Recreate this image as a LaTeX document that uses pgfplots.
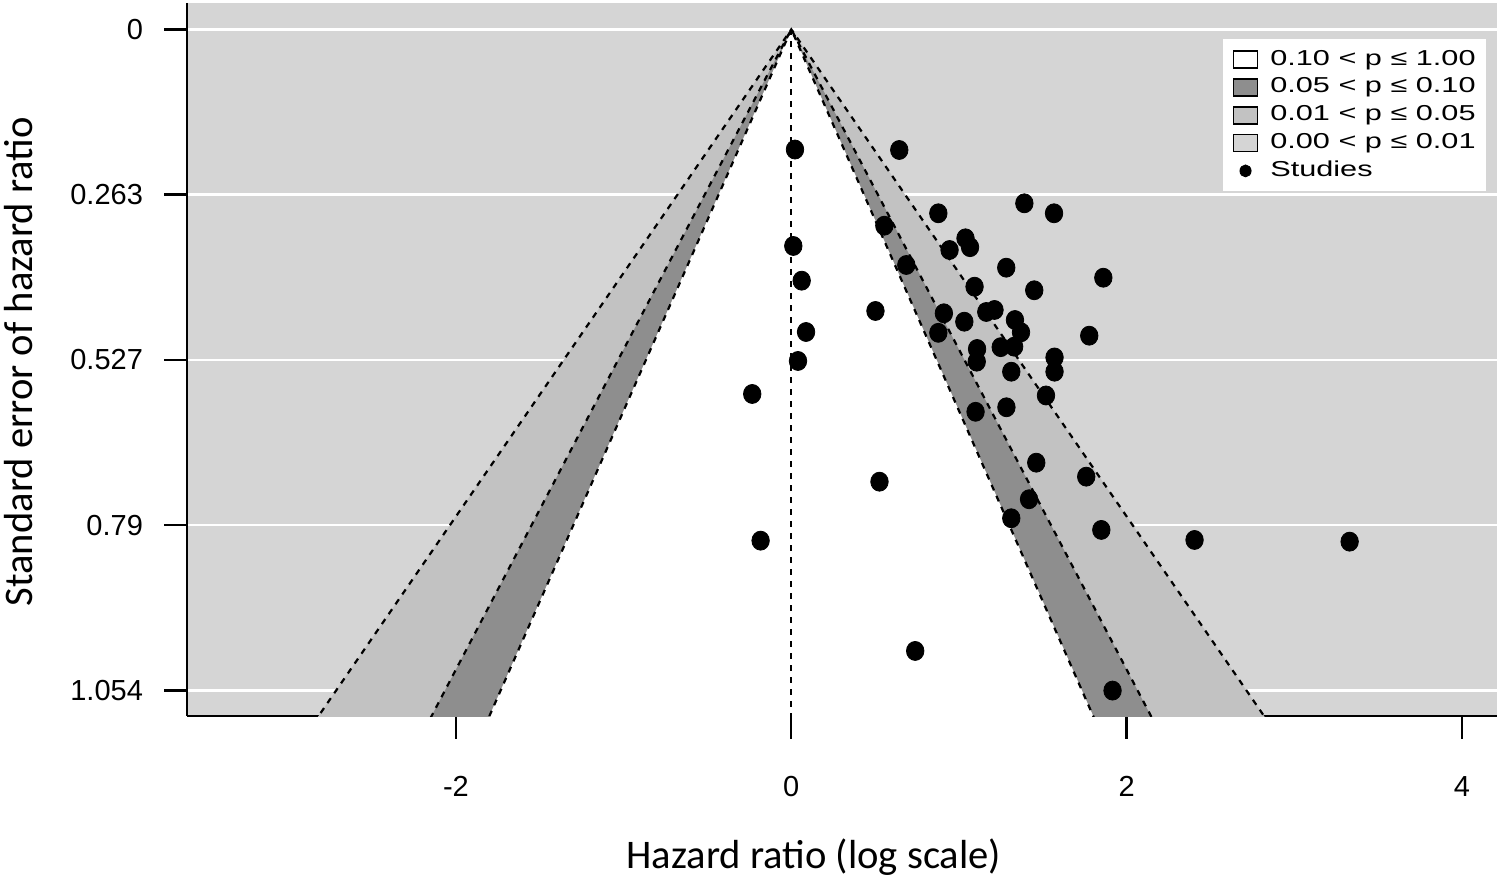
\documentclass[border=0pt]{standalone}
\usepackage{fontspec}
\setmainfont{Liberation Sans}
\newfontfamily\calibri{Carlito}
\usepackage{graphicx}
\usepackage{pgfplots}
\usepackage{pgfplotstable}
\pgfplotsset{compat=1.18}
\definecolor{bgray}{HTML}{D5D5D5}
\definecolor{mgray}{HTML}{C2C2C2}
\definecolor{dgray}{HTML}{8E8E8E}
\pgfplotsset{
  layers/mylayers/.define layer set={axis background,axis grid,main,axis ticks,axis lines,axis tick labels,axis descriptions,axis foreground}{},
}
\pgfplotstableread{
x y
0.022 0.1916
0.644 0.1923
1.390 0.2773
1.567 0.2932
0.877 0.2932
0.555 0.3130
1.039 0.3331
1.066 0.3472
0.944 0.3517
0.012 0.3453
0.686 0.3756
1.282 0.3799
1.861 0.3959
0.062 0.4006
1.093 0.4102
1.449 0.4159
0.502 0.4489
0.910 0.4526
1.163 0.4505
1.212 0.4473
1.032 0.4660
1.334 0.4633
1.370 0.4829
0.877 0.4837
0.088 0.4824
1.777 0.4883
1.108 0.5095
1.249 0.5066
1.329 0.5058
1.106 0.5297
0.040 0.5286
1.570 0.5230
1.570 0.5457
1.312 0.5457
-0.233 0.5812
1.519 0.5836
1.283 0.6024
1.099 0.6096
1.461 0.6907
0.526 0.7210
1.759 0.7130
1.418 0.7490
1.312 0.7793
1.849 0.7979
-0.183 0.8150
2.405 0.8139
3.330 0.8166
0.739 0.9908
1.916 1.0540
}\studies

\begin{document}
\begin{tikzpicture}
\begin{axis}[
  set layers=mylayers,
  at={(0pt,0pt)}, anchor=south west,
  scale only axis, width=655pt, height=356.5pt,
  xmin=-3.604, xmax=4.209, ymin=-0.042, ymax=1.0945,
  y dir=reverse,
  axis x line*=bottom, axis y line*=left,
  axis line style={line width=1.2pt, -},
  axis background/.style={fill=bgray},
  xtick={-2,0,2,4}, xticklabels={-2,0,2,4},
  ytick={0,0.2635,0.527,0.7905,1.054}, yticklabels={0,0.263,0.527,0.79,1.054},
  tick align=outside, major tick length=11.5pt,
  tick style={line width=1.2pt, black},
  ymajorgrids, grid style={white, line width=1.2pt},
  ticklabel style={font=\fontsize{14.5}{17}\selectfont},
  xticklabel style={yshift=-15pt},
  yticklabel style={xshift=-7pt},
  xlabel={Hazard ratio (log scale)},
  xlabel style={at={(axis description cs:0.4786,-0.2132)}, anchor=base, font=\fontsize{20.3}{24}\selectfont\calibri},
  ylabel={Standard error of hazard ratio},
  ylabel style={at={(axis description cs:-0.1183,0.497)}, anchor=base, font=\fontsize{20.3}{24}\selectfont\calibri},
  legend style={draw=none, fill=white, at={(axis description cs:0.9916,0.9495)}, anchor=north east,
    font=\fontsize{10.8}{12}\selectfont, inner xsep=5pt, inner ysep=5pt, row sep=3.6pt, column sep=6pt,
    nodes={inner sep=0pt, text height=7.8pt, text depth=2.5pt}},
  legend cell align=left,
]
\addlegendimage{legend image code/.code={\draw[line width=0.8pt, fill=white] (0pt,-4.25pt) rectangle (12pt,4.25pt);}}
\addlegendentry{\scalebox{1.42}[1]{0.10 < p ≤ 1.00}}
\addlegendimage{legend image code/.code={\draw[line width=0.8pt, fill=dgray] (0pt,-4.25pt) rectangle (12pt,4.25pt);}}
\addlegendentry{\scalebox{1.42}[1]{0.05 < p ≤ 0.10}}
\addlegendimage{legend image code/.code={\draw[line width=0.8pt, fill=mgray] (0pt,-4.25pt) rectangle (12pt,4.25pt);}}
\addlegendentry{\scalebox{1.42}[1]{0.01 < p ≤ 0.05}}
\addlegendimage{legend image code/.code={\draw[line width=0.8pt, fill=bgray] (0pt,-4.25pt) rectangle (12pt,4.25pt);}}
\addlegendentry{\scalebox{1.42}[1]{0.00 < p ≤ 0.01}}
\addlegendimage{legend image code/.code={\fill[black] (6pt,0pt) ellipse[x radius=2.8pt, y radius=3pt];}}
\addlegendentry{\scalebox{1.42}[1]{Studies}}

\addplot[fill=mgray, draw=none, forget plot] coordinates {(-3.0912,1.2) (0,0) (3.0912,1.2)};
\addplot[fill=dgray, draw=none, forget plot] coordinates {(-2.352,1.2) (0,0) (2.352,1.2)};
\addplot[fill=white, draw=none, forget plot] coordinates {(-1.974,1.2) (0,0) (1.974,1.2)};
\addplot[black, line width=1.1pt, dash pattern=on 3pt off 3pt, forget plot] coordinates {(-3.0912,1.2) (0,0) (3.0912,1.2)};
\addplot[black, line width=1.1pt, dash pattern=on 3pt off 3pt, forget plot] coordinates {(-2.352,1.2) (0,0) (2.352,1.2)};
\addplot[black, line width=1.1pt, dash pattern=on 3pt off 3pt, forget plot] coordinates {(-1.974,1.2) (0,0) (1.974,1.2)};
\addplot[black, line width=1.1pt, dash pattern=on 3pt off 3pt, forget plot] coordinates {(0,0) (0,1.2)};
\addplot[only marks, mark=*, mark size=4.75pt, black, mark options={xscale=0.92}, forget plot] table {\studies};
\end{axis}
\pgfresetboundingbox
\useasboundingbox (-93.5pt,-80.5pt) rectangle (657.5pt,358pt);
\end{tikzpicture}
\end{document}
